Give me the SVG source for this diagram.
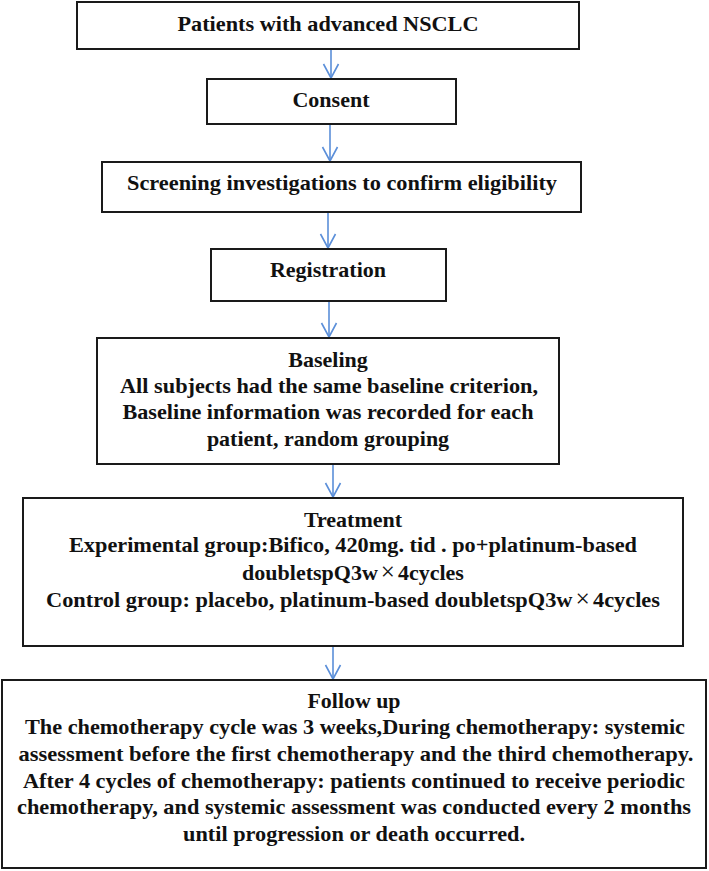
<svg xmlns="http://www.w3.org/2000/svg" width="709" height="871" viewBox="0 0 709 871">
<defs>
<style>
.box{fill:#ffffff;stroke:#1a1a1a;stroke-width:2}
.t{font-family:"Liberation Serif","Times New Roman",serif;font-weight:bold;font-size:22px;fill:#111;text-anchor:middle}
.x{font-weight:normal;font-size:25px}
.c{stroke:#5b8fd9;stroke-width:1.6;fill:none}
</style>
<marker id="ah" markerUnits="userSpaceOnUse" orient="auto" refX="0" refY="0" markerWidth="20" markerHeight="20" overflow="visible">
<path d="M-14,-7.5 L0,0 L-14,7.5" fill="none" stroke="#5b8fd9" stroke-width="1.6"/>
</marker>
</defs>
<rect width="709" height="871" fill="#ffffff"/>
<g id="connectors">
<line class="c" x1="331" y1="50" x2="331" y2="78" marker-end="url(#ah)"/>
<line class="c" x1="330" y1="125" x2="330" y2="161" marker-end="url(#ah)"/>
<line class="c" x1="328" y1="213" x2="328" y2="248" marker-end="url(#ah)"/>
<line class="c" x1="329" y1="302" x2="329" y2="337" marker-end="url(#ah)"/>
<line class="c" x1="333" y1="465" x2="333" y2="497" marker-end="url(#ah)"/>
<line class="c" x1="333" y1="647" x2="333" y2="679" marker-end="url(#ah)"/>
</g>
<g id="patients">
<rect class="box" x="77" y="2" width="502" height="47"/>
<text class="t" x="328" y="31" textLength="301" lengthAdjust="spacingAndGlyphs">Patients with advanced NSCLC</text>
</g>
<g id="consent">
<rect class="box" x="207" y="79" width="249" height="45"/>
<text class="t" x="331" y="107">Consent</text>
</g>
<g id="screening">
<rect class="box" x="102" y="162" width="479" height="50"/>
<text class="t" x="342" y="190" textLength="430" lengthAdjust="spacingAndGlyphs">Screening investigations to confirm eligibility</text>
</g>
<g id="registration">
<rect class="box" x="211" y="249" width="235" height="52"/>
<text class="t" x="328" y="277">Registration</text>
</g>
<g id="baseling">
<rect class="box" x="97" y="338" width="462" height="126"/>
<text class="t" x="328" y="367">Baseling</text>
<text class="t" x="329" y="393" textLength="418" lengthAdjust="spacingAndGlyphs">All subjects had the same baseline criterion,</text>
<text class="t" x="328" y="419" textLength="411" lengthAdjust="spacingAndGlyphs">Baseline information was recorded for each</text>
<text class="t" x="328" y="446">patient, random grouping</text>
</g>
<g id="treatment">
<rect class="box" x="23" y="498" width="660" height="148"/>
<text class="t" x="353" y="527">Treatment</text>
<text class="t" x="353" y="552" textLength="568" lengthAdjust="spacingAndGlyphs">Experimental group:Bifico, 420mg. tid . po+platinum-based</text>
<text class="t" x="353" y="580">doubletspQ3w<tspan class="x" dx="3">×</tspan><tspan dx="3">4cycles</tspan></text>
<text class="t" x="353" y="607" textLength="614" lengthAdjust="spacingAndGlyphs">Control group: placebo, platinum-based doubletspQ3w<tspan class="x" dx="3">×</tspan><tspan dx="3">4cycles</tspan></text>
</g>
<g id="followup">
<rect class="box" x="2" y="680" width="704" height="188"/>
<text class="t" x="354" y="708" textLength="93" lengthAdjust="spacingAndGlyphs">Follow up</text>
<text class="t" x="355" y="734" textLength="660" lengthAdjust="spacingAndGlyphs">The chemotherapy cycle was 3 weeks,During chemotherapy: systemic</text>
<text class="t" x="356" y="761" textLength="675" lengthAdjust="spacingAndGlyphs">assessment before the first chemotherapy and the third chemotherapy.</text>
<text class="t" x="354" y="788" textLength="662" lengthAdjust="spacingAndGlyphs">After 4 cycles of chemotherapy: patients continued to receive periodic</text>
<text class="t" x="354" y="814" textLength="674" lengthAdjust="spacingAndGlyphs">chemotherapy, and systemic assessment was conducted every 2 months</text>
<text class="t" x="354" y="841" textLength="342" lengthAdjust="spacingAndGlyphs">until progression or death occurred.</text>
</g>
</svg>
